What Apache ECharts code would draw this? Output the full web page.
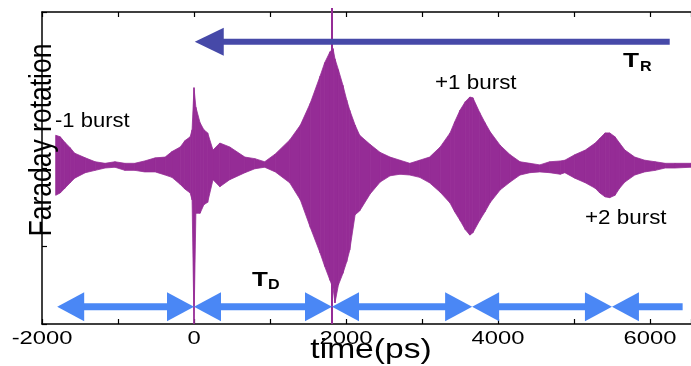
<!DOCTYPE html>
<html>
<head>
<meta charset="utf-8">
<script src="https://cdn.jsdelivr.net/npm/echarts@6.0.0/dist/echarts.min.js"></script>
<style>
  html, body { margin: 0; padding: 0; background: #fff; }
  #chart { width: 691px; height: 366px; }
</style>
</head>
<body>
<div id="chart"></div>
<script>
// envelope of the Faraday rotation trace (time in ps, arb. units)
const times = [-1820, -1760, -1700, -1630, -1570, -1430, -1300, -1170, -1040, -910,
  -780, -650, -510, -380, -290, -180, -120, -50, -25, 0,
  25, 80, 130, 180, 250, 340, 470, 670, 800, 930,
  1070, 1260, 1400, 1530, 1660, 1720, 1790, 1830, 1855, 1900,
  1960, 2010, 2050, 2120, 2180, 2320, 2450, 2580, 2710, 2840,
  2970, 3100, 3240, 3370, 3430, 3500, 3570, 3630, 3670, 3760,
  3830, 3900, 4030, 4160, 4290, 4420, 4550, 4680, 4820, 4880,
  5010, 5150, 5280, 5340, 5410, 5470, 5540, 5600, 5670, 5800,
  5930, 6070, 6200, 6330, 6540]
const upper = [0.42, 0.40, 0.33, 0.26, 0.19, 0.13, 0.08, 0.06, 0.08, 0.06,
  0.06, 0.09, 0.13, 0.14, 0.21, 0.27, 0.35, 0.40, 0.49, 1.03,
  0.78, 0.58, 0.49, 0.45, 0.23, 0.32, 0.27, 0.14, 0.12, 0.08,
  0.18, 0.36, 0.55, 0.83, 1.18, 1.35, 1.49, 1.53, 1.40, 1.26,
  1.06, 0.87, 0.74, 0.55, 0.42, 0.30, 0.20, 0.14, 0.10, 0.06,
  0.10, 0.14, 0.27, 0.45, 0.59, 0.74, 0.85, 0.91, 0.90, 0.71,
  0.58, 0.46, 0.29, 0.17, 0.08, 0.06, 0.04, 0.08, 0.09, 0.10,
  0.17, 0.23, 0.32, 0.38, 0.45, 0.45, 0.40, 0.32, 0.23, 0.14,
  0.10, 0.08, 0.06, 0.06, 0.06]
const lower = [-0.35, -0.32, -0.26, -0.19, -0.13, -0.06, -0.03, 0.00, 0.01, -0.03,
  -0.03, -0.05, -0.05, -0.09, -0.12, -0.21, -0.27, -0.32, -0.41, -2.00,
  -0.58, -0.58, -0.47, -0.44, -0.15, -0.24, -0.15, -0.06, -0.01, 0.01,
  -0.05, -0.19, -0.41, -0.76, -1.09, -1.26, -1.44, -1.54, -1.73, -1.50,
  -1.35, -1.20, -1.05, -0.60, -0.55, -0.33, -0.18, -0.10, -0.08, -0.09,
  -0.12, -0.19, -0.31, -0.45, -0.56, -0.67, -0.79, -0.86, -0.83, -0.67,
  -0.56, -0.44, -0.28, -0.18, -0.09, -0.06, -0.05, -0.06, -0.08, -0.06,
  -0.13, -0.19, -0.26, -0.32, -0.37, -0.38, -0.35, -0.26, -0.18, -0.09,
  -0.05, -0.03, 0.00, 0.00, 0.01]

const markerTime = 1816
// T_D arrows: boundaries between bursts, last one runs out to the edge
const tdTimes = [-1800, 0, 1816, 3660, 5500, 6430]
// T_R arrow: [tail, head]
const trTimes = [6260, 10]

const xTicks = [-2000, 0, 2000, 4000, 6000]
const xTickLabels = ['-2000', '0', '2000', '4000', '6000']

const waveColor = '#952c96'
const tdColor = '#4a87f5'
const trColor = '#4649a8'
const tdLevel = -1.78
const trLevel = 1.62

const chart = echarts.init(document.getElementById('chart'), null, { renderer: 'canvas' })

const waveRows = times.map((t, i) => [t, upper[i], lower[i]])

const tdRows = []
for (let i = 0; i < tdTimes.length - 1; i++) {
  const last = i === tdTimes.length - 2
  tdRows.push([tdTimes[i], tdTimes[i + 1], tdLevel, 1, last ? 0 : 1])
}
const trRows = [[trTimes[1], trTimes[0], trLevel, 1, 0]]

function waveItem(params, api) {
  const i = params.dataIndex
  if (i >= times.length - 1) return null
  const p0 = api.coord([api.value(0), api.value(1)])
  const p1 = api.coord([times[i + 1], upper[i + 1]])
  const q1 = api.coord([times[i + 1], lower[i + 1]])
  const q0 = api.coord([api.value(0), api.value(2)])
  return {
    type: 'polygon',
    shape: { points: [p0, p1, q1, q0] },
    style: { fill: waveColor, stroke: waveColor, lineWidth: 0.8 }
  }
}

function makeArrow(color, headLen, headHalf, shaft) {
  return function(params, api) {
    const a = api.coord([api.value(0), api.value(2)])
    const b = api.coord([api.value(1), api.value(2)])
    const hl = api.value(3)
    const hr = api.value(4)
    const y = a[1]
    const x0 = hl ? a[0] + headLen - 1 : a[0]
    const x1 = hr ? b[0] - headLen + 1 : b[0]
    const children = [{
      type: 'rect',
      shape: { x: x0, y: y - shaft / 2, width: x1 - x0, height: shaft },
      style: { fill: color }
    }]
    if (hl) {
      children.push({
        type: 'polygon',
        shape: { points: [[a[0], y], [a[0] + headLen, y - headHalf], [a[0] + headLen, y + headHalf]] },
        style: { fill: color }
      })
    }
    if (hr) {
      children.push({
        type: 'polygon',
        shape: { points: [[b[0], y], [b[0] - headLen, y - headHalf], [b[0] - headLen, y + headHalf]] },
        style: { fill: color }
      })
    }
    return { type: 'group', children: children }
  }
}

const axisLine = { show: true, onZero: false, lineStyle: { color: '#000', width: 1.5 } }
const axisTick = { show: true, inside: true, length: 5, lineStyle: { color: '#000', width: 1.2 } }

chart.setOption({
  animation: false,
  backgroundColor: '#fff',
  grid: { left: 42, right: 0, top: 12, bottom: 42 },
  xAxis: [
    {
      type: 'value', position: 'bottom', min: -2000, max: 6540, interval: 1000,
      axisLine: axisLine, axisTick: axisTick, axisLabel: { show: false },
      splitLine: { show: false }
    },
    {
      type: 'value', position: 'top', min: -2000, max: 6540, interval: 1000,
      axisLine: axisLine, axisTick: axisTick, axisLabel: { show: false },
      splitLine: { show: false }
    }
  ],
  yAxis: {
    type: 'value', position: 'left', min: -2, max: 2, interval: 1,
    axisLine: axisLine, axisTick: axisTick, axisLabel: { show: false },
    splitLine: { show: false }
  },
  series: [
    {
      type: 'custom',
      name: 'Faraday rotation',
      renderItem: waveItem,
      encode: { x: 0, y: [1, 2] },
      data: waveRows,
      z: 2
    },
    {
      type: 'line',
      name: 'marker',
      data: [[markerTime, -2], [markerTime, 2.05]],
      showSymbol: false,
      clip: false,
      lineStyle: { color: waveColor, width: 2 },
      z: 3
    },
    {
      type: 'custom',
      name: 'T_D',
      renderItem: makeArrow(tdColor, 27, 14.5, 7),
      encode: { x: [0, 1], y: 2 },
      data: tdRows,
      z: 4
    },
    {
      type: 'custom',
      name: 'T_R',
      renderItem: makeArrow(trColor, 29, 14, 6),
      encode: { x: [0, 1], y: 2 },
      data: trRows,
      z: 4
    }
  ]
})

const font = '"Liberation Sans", Arial, sans-serif'
function label(text, x, y, size, opts) {
  opts = opts || {}
  return {
    type: 'text',
    x: x, y: y,
    rotation: opts.rotation || 0,
    scaleX: opts.scaleX || 1,
    scaleY: opts.scaleY || 1,
    z: 100,
    style: {
      text: text,
      fill: '#000',
      fontSize: size,
      fontFamily: font,
      fontWeight: opts.bold ? 'bold' : 'normal',
      align: opts.align || 'left',
      verticalAlign: 'middle',
      textAlign: opts.align || 'left',
      textVerticalAlign: 'middle'
    }
  }
}

const graphics = xTicks.map((v, i) => {
  const px = chart.convertToPixel({ xAxisIndex: 0 }, v)
  return label(xTickLabels[i], px, 339, 19, { align: 'center', scaleX: 1.25 })
})
graphics.push(label('time(ps)', 371, 350, 28, { align: 'center', scaleX: 1.2 }))
graphics.push(label('Faraday rotation', 42, 140, 26.5, { align: 'center', rotation: Math.PI / 2, scaleY: 1.2 }))
graphics.push(label('-1 burst', 55, 121, 20, { scaleX: 1.1 }))
graphics.push(label('+1 burst', 435, 83, 20, { scaleX: 1.12 }))
graphics.push(label('+2 burst', 585, 218, 20, { scaleX: 1.12 }))
graphics.push(label('T', 623, 61, 21, { bold: true, scaleX: 1.25 }))
graphics.push(label('R', 640, 67, 14, { bold: true, scaleX: 1.15 }))
graphics.push(label('T', 252, 280, 20, { bold: true, scaleX: 1.3 }))
graphics.push(label('D', 268, 285, 14, { bold: true, scaleX: 1.15 }))

chart.setOption({ graphic: graphics })
</script>
</body>
</html>
